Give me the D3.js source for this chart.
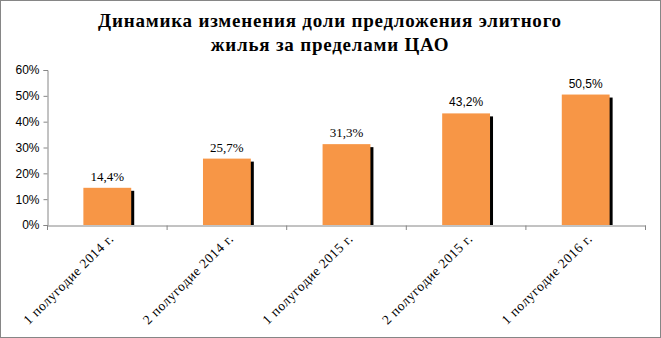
<!DOCTYPE html>
<html><head><meta charset="utf-8">
<script src="https://cdn.jsdelivr.net/npm/d3@7"></script>
<style>body{margin:0;background:#fff}svg{display:block}</style>
</head><body>
<script>
const titleLines = ["Динамика изменения доли предложения элитного", "жилья за пределами ЦАО"];
const categories = ["1 полугодие 2014 г.", "2 полугодие 2014 г.", "1 полугодие 2015 г.", "2 полугодие 2015 г.", "1 полугодие 2016 г."];
const values = [14.4, 25.7, 31.3, 43.2, 50.5];
const valueLabels = ["14,4%", "25,7%", "31,3%", "43,2%", "50,5%"];
const yTicks = [0, 10, 20, 30, 40, 50, 60];

const W = 661, H = 338;
const svg = d3.select("body").append("svg").attr("width", W).attr("height", H);
svg.append("rect").attr("x", 0.5).attr("y", 0.5).attr("width", W - 1).attr("height", H - 1)
  .attr("fill", "#fff").attr("stroke", "#868686");

const title = svg.append("text").attr("text-anchor", "middle")
  .attr("font-family", "'Liberation Serif', serif").attr("font-weight", "bold").attr("font-size", 19);
const tsp = title.selectAll("tspan").data(titleLines).join("tspan")
  .attr("x", 330).attr("y", (d, i) => 27 + i * 24).text(d => d);
const w0 = tsp.node().getComputedTextLength();
title.attr("letter-spacing", Math.max(0, (463 - w0) / (titleLines[0].length - 1)));

const x = d3.scaleBand().domain(categories).range([47.5, 645.5]).paddingInner(0.6).paddingOuter(0.3);
const y = d3.scaleLinear().domain([0, 60]).range([225, 70]);

const yAxis = svg.append("g").attr("transform", "translate(47.5,0)")
  .call(d3.axisLeft(y).tickValues(yTicks).tickFormat(d => d + "%").tickSize(4).tickPadding(4));
yAxis.select(".domain").attr("stroke", "#868686");
yAxis.selectAll(".tick line").attr("stroke", "#868686");
yAxis.selectAll("text").attr("font-family", "'Liberation Sans', sans-serif").attr("font-size", 12).attr("fill", "#000");

const xb = d3.scaleBand().domain(categories).range([47.5, 645.5]);
const xAxis = svg.append("g").attr("transform", "translate(0,225.5)")
  .call(d3.axisBottom(xb).tickSize(0).tickFormat(""));
xAxis.select(".domain").attr("stroke", "#868686");
const bounds = [0, 1, 2, 3, 4, 5].map(i => 47.5 + i * xb.step());
svg.append("g").selectAll("line").data(bounds).join("line")
  .attr("x1", d => d).attr("x2", d => d).attr("y1", 225.5).attr("y2", 230).attr("stroke", "#868686");

const g = svg.append("g");
g.selectAll(".shadow").data(values).join("rect")
  .attr("x", (d, i) => x(categories[i]) + 3).attr("y", d => y(d) + 3)
  .attr("width", x.bandwidth()).attr("height", d => 225 - y(d) - 3).attr("fill", "#000");
g.selectAll(".bar").data(values).join("rect")
  .attr("x", (d, i) => x(categories[i])).attr("y", d => y(d))
  .attr("width", x.bandwidth()).attr("height", d => 225 - y(d)).attr("fill", "#F79646");

g.selectAll(".lbl").data(values).join("text")
  .attr("x", (d, i) => x(categories[i]) + x.bandwidth() / 2).attr("y", d => y(d) - 7)
  .attr("text-anchor", "middle")
  .attr("font-family", (d, i) => i < 3 ? "'Liberation Serif', serif" : "'Liberation Sans', sans-serif")
  .attr("font-size", (d, i) => i < 3 ? 13 : 12)
  .text((d, i) => valueLabels[i]);

svg.append("g").selectAll("text").data(categories).join("text")
  .attr("transform", d => `translate(${xb(d) + xb.bandwidth() / 2 + 4},236) rotate(-45)`)
  .attr("text-anchor", "end").attr("font-family", "'Liberation Serif', serif").attr("font-size", 13.5)
  .attr("letter-spacing", 0.6)
  .attr("dy", "0.35em").text(d => d);
</script>
</body></html>
